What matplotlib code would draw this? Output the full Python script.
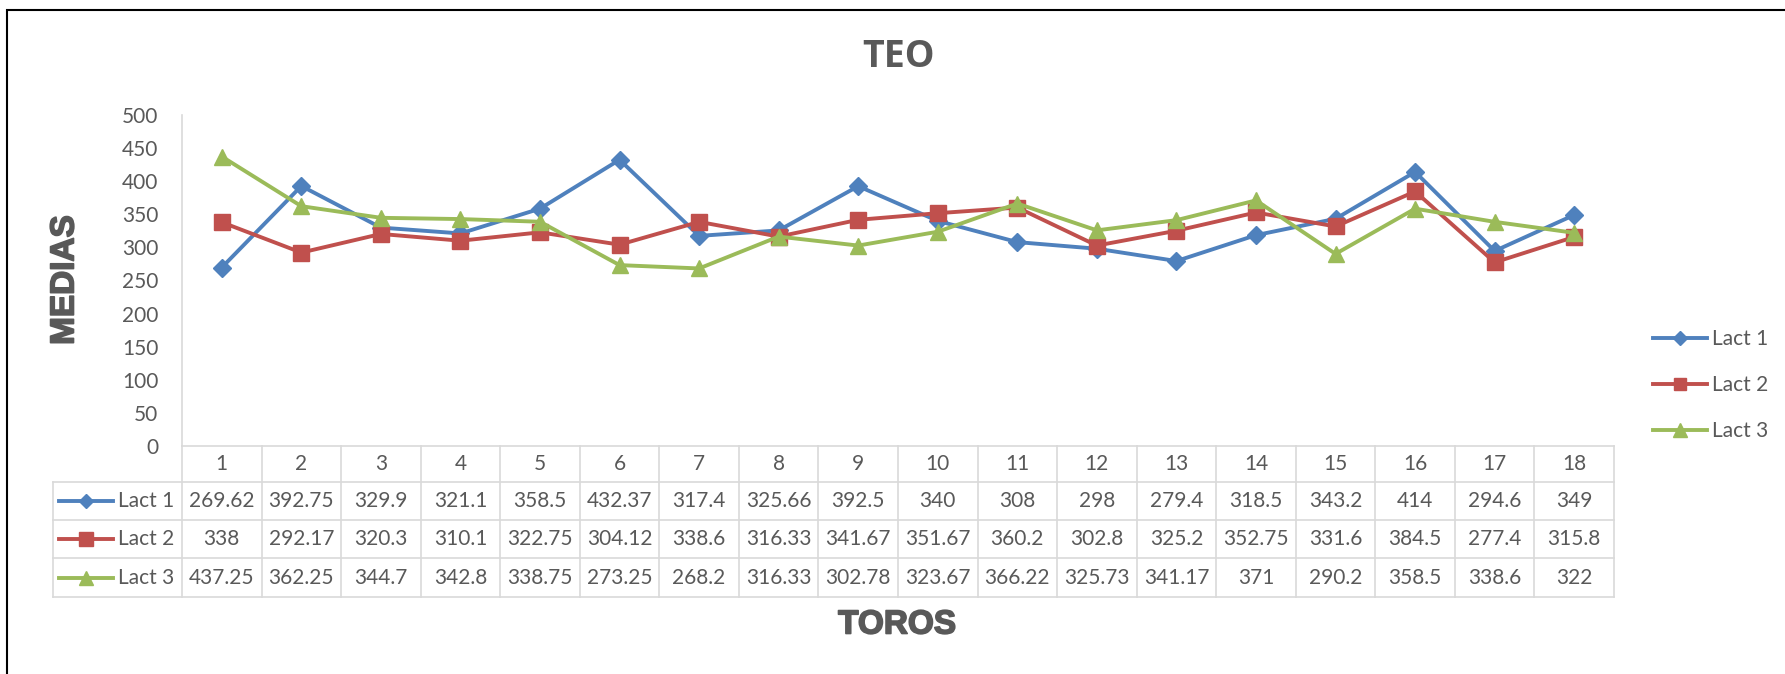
import matplotlib
matplotlib.use("Agg")
from matplotlib import pyplot as plt
from matplotlib.lines import Line2D
from matplotlib.patches import Rectangle
from matplotlib.transforms import blended_transform_factory
import matplotlib.patheffects as pe

# datos de la tabla
toros = list(range(1, 19))
lact1 = [269.62, 392.75, 329.9, 321.1, 358.5, 432.37, 317.4, 325.66, 392.5,
         340, 308, 298, 279.4, 318.5, 343.2, 414, 294.6, 349]
lact2 = [338, 292.17, 320.3, 310.1, 322.75, 304.12, 338.6, 316.33, 341.67,
         351.67, 360.2, 302.8, 325.2, 352.75, 331.6, 384.5, 277.4, 315.8]
lact3 = [437.25, 362.25, 344.7, 342.8, 338.75, 273.25, 268.2, 316.33, 302.78,
         323.67, 366.22, 325.73, 341.17, 371, 290.2, 358.5, 338.6, 322]
nombres = ["Lact 1", "Lact 2", "Lact 3"]
yticks = [0, 50, 100, 150, 200, 250, 300, 350, 400, 450, 500]

colores = ["#4F81BD", "#C0504D", "#9BBB59"]
marcadores = ["D", "s", "^"]
tamanos = [8.8, 11.5, 12]
gris = "#595959"
rejilla = "#D9D9D9"

plt.rcParams["font.family"] = ["Lato", "DejaVu Sans"]

W, H = 1785, 674
fig = plt.figure(figsize=(W / 100, H / 100), dpi=100)

# area del grafico en pixeles
x0, x1 = 182, 1614
ytop, y0 = 115, 446
ax = fig.add_axes([x0 / W, 1 - y0 / H, (x1 - x0) / W, (y0 - ytop) / H])

series = [lact1, lact2, lact3]
for vals, c, m, ms, n in zip(series, colores, marcadores, tamanos, nombres):
    ax.plot(toros, vals, color=c, lw=2.8, marker=m, ms=ms, label=n,
            solid_joinstyle="round", clip_on=False, zorder=3)

ax.set_xlim(0.5, 18.5)
ax.set_ylim(0, 500)
ax.set_yticks(yticks)
ax.set_xticks([])
ax.tick_params(axis="y", length=0, pad=17, labelsize=15, labelcolor=gris)
for s in ["top", "right"]:
    ax.spines[s].set_visible(False)
for s in ["left", "bottom"]:
    ax.spines[s].set_color(rejilla)
    ax.spines[s].set_linewidth(1.2)

# tabla de datos debajo del eje
def fy(py):
    return 1 - py / H

col_w = (x1 - x0) / 18.0
tr = blended_transform_factory(ax.transData, fig.transFigure)
filas = [446, 482, 520, 558, 597]
x_leg = 0.5 - (x0 - 53) / col_w

# lineas horizontales
for py in filas[1:]:
    ax.add_line(Line2D([x_leg, 18.5], [fy(py), fy(py)], transform=tr,
                       color=rejilla, lw=1.2, clip_on=False))
# lineas verticales
for k in range(19):
    xb = 0.5 + k
    ax.add_line(Line2D([xb, xb], [fy(filas[0]), fy(filas[-1])], transform=tr,
                       color=rejilla, lw=1.2, clip_on=False))
ax.add_line(Line2D([x_leg, x_leg], [fy(filas[1]), fy(filas[-1])], transform=tr,
                   color=rejilla, lw=1.2, clip_on=False))

# encabezado
yc = (filas[0] + filas[1]) / 2
for t in toros:
    ax.text(t, fy(yc), str(t), transform=tr, ha="center", va="center",
            fontsize=15, color=gris)

for r, (vals, c, m, n) in enumerate(zip(series, colores, marcadores, nombres)):
    yc = (filas[r + 1] + filas[r + 2]) / 2
    for t, v in zip(toros, vals):
        ax.text(t, fy(yc), "{:g}".format(v), transform=tr, ha="center",
                va="center", fontsize=15, color=gris)
    # clave de leyenda en la tabla
    xa = 0.5 - (x0 - 59) / col_w
    xb = 0.5 - (x0 - 113) / col_w
    ax.add_line(Line2D([xa, xb], [fy(yc), fy(yc)], transform=tr, color=c,
                       lw=2.8, clip_on=False))
    ax.add_line(Line2D([(xa + xb) / 2], [fy(yc)], transform=tr, color=c,
                       marker=m, ms=9.5 if m != "D" else 7, lw=0, clip_on=False))
    ax.text(0.5 - (x0 - 118) / col_w, fy(yc), n, transform=tr, ha="left",
            va="center", fontsize=15, color=gris)

# leyenda derecha
ax.legend(loc="upper left", bbox_to_anchor=(1653 / W, fy(329)),
          bbox_transform=fig.transFigure, frameon=False, fontsize=15,
          labelcolor=gris, handlelength=2.6, handletextpad=0.25,
          labelspacing=1.25, borderpad=0, borderaxespad=0, markerscale=0.8)

# titulos
fig.text(898 / W, fy(57), "TEO", ha="center", va="center", fontsize=27,
         fontweight="bold", color=gris, family=["Open Sans", "DejaVu Sans"])
heavy = [pe.withStroke(linewidth=1.2, foreground=gris)]
fig.text(897 / W, fy(625), "TOROS", ha="center", va="center", fontsize=24,
         fontweight="bold", color=gris, path_effects=heavy,
         family=["Liberation Sans", "DejaVu Sans"])
fig.text(65 / W, fy(280), "MEDIAS", ha="center", va="center", fontsize=24,
         fontweight="bold", color=gris, rotation=90, path_effects=heavy,
         family=["Liberation Sans", "DejaVu Sans"])

# marco exterior
fig.patches.append(Rectangle((7 / W, -0.1), 1.2, fy(10) + 0.1,
                             transform=fig.transFigure, fill=False,
                             edgecolor="black", lw=1.5))

fig.savefig("out.png", dpi=100)
